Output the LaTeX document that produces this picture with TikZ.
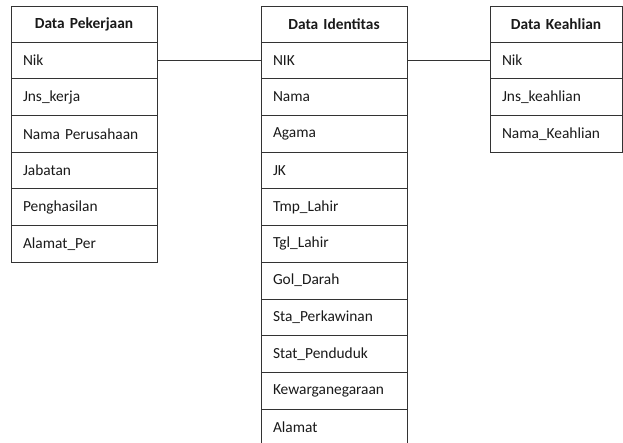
\documentclass[tikz,border=0pt]{standalone}
\usepackage{fontspec}
\setmainfont{Carlito}
\usetikzlibrary{positioning}

\tikzset{
  tbl/.style={draw=black!80, line width=0.8pt, rectangle, outer sep=0pt,
    inner xsep=12pt, text=black!90, font=\fontsize{15.4}{18}\selectfont},
  head/.style={tbl, minimum height=36pt, align=center,
    font=\fontsize{15.4}{18}\selectfont\bfseries},
  field/.style={tbl, minimum height=36.7pt, align=left},
  link/.style={draw=black!80, line width=0.8pt},
}

\begin{document}
\begin{tikzpicture}[x=1pt,y=-1pt]
    \useasboundingbox (0,0) rectangle (623,442);
    \clip (0,0) rectangle (623,442);

    % tabel pekerjaan
    \node[head, text width=122pt, anchor=north west] (kerja0) at (11,6) {Data Pekerjaan};
    \foreach \f [count=\i, evaluate=\i as \j using int(\i-1)] in {Nik, Jns\_kerja, Nama Perusahaan, Jabatan, Penghasilan, Alamat\_Per}{
        \node[field, text width=122pt, below=0pt of kerja\j] (kerja\i) {\f};
    }

    % tabel identitas
    \node[head, text width=122pt, anchor=north west] (ident0) at (261,6) {Data Identitas};
    \foreach \f [count=\i, evaluate=\i as \j using int(\i-1)] in {NIK, Nama, Agama, JK, Tmp\_Lahir, Tgl\_Lahir, Gol\_Darah, Sta\_Perkawinan, Stat\_Penduduk, Kewarganegaraan, Alamat}{
        \node[field, text width=122pt, below=0pt of ident\j] (ident\i) {\f};
    }

    % tabel keahlian
    \node[head, text width=108pt, anchor=north west] (ahli0) at (490,6) {Data Keahlian};
    \foreach \f [count=\i, evaluate=\i as \j using int(\i-1)] in {Nik, Jns\_keahlian, Nama\_Keahlian}{
        \node[field, text width=108pt, below=0pt of ahli\j] (ahli\i) {\f};
    }

    \draw[link] (kerja1.east) -- (ident1.west);
    \draw[link] (ident1.east) -- (ahli1.west);
\end{tikzpicture}
\end{document}
